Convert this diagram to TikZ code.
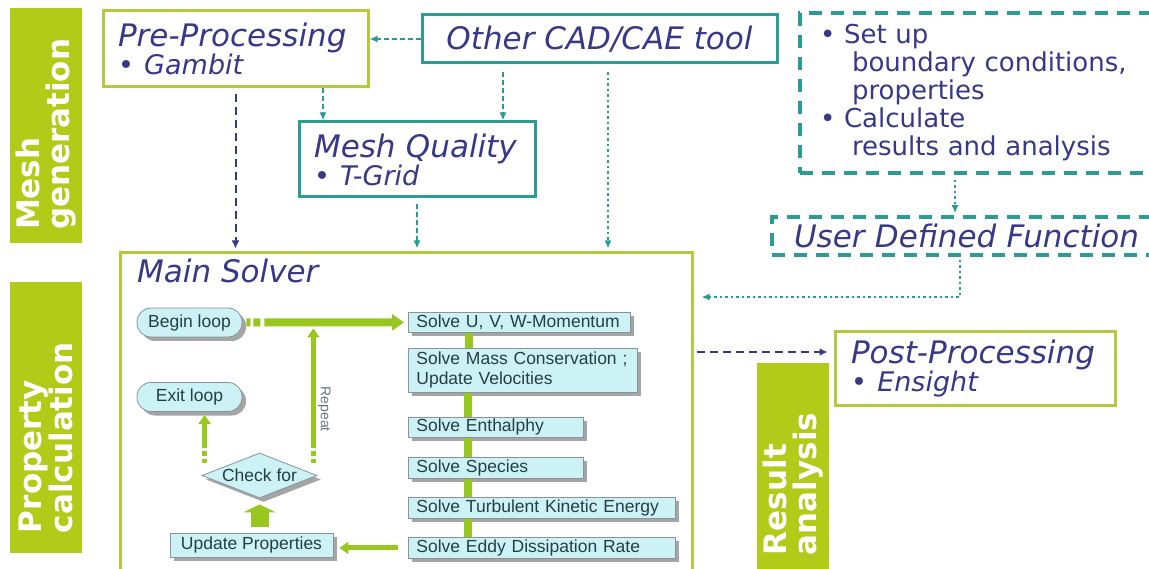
\documentclass[tikz,border=0pt]{standalone}
\usepackage{fontspec}
\setmainfont{DejaVu Sans}
\newfontfamily\flowfont{Liberation Sans}
\usetikzlibrary{arrows.meta,shapes.geometric,shadows}
\definecolor{barGreen}{RGB}{178,202,24}
\definecolor{boxGreen}{RGB}{176,204,62}
\definecolor{tealLine}{RGB}{44,156,146}
\definecolor{navyText}{RGB}{56,56,136}
\definecolor{cyanFill}{RGB}{204,242,246}
\definecolor{flowGreen}{RGB}{152,200,32}
\definecolor{flowText}{RGB}{36,62,72}
\newcommand\bulletline[1]{{\fontsize{27}{28}\selectfont • #1}}
\begin{document}
\begin{tikzpicture}[x=1pt, y=-1pt,
  bar/.style={rotate=90, fill=barGreen, text=white, align=left, inner ysep=0pt,
    minimum height=72pt, font=\bfseries\fontsize{31}{30}\selectfont},
  gbox/.style={draw=boxGreen, line width=3pt, fill=white, text=navyText, align=left,
    inner xsep=15pt, inner ysep=0pt, font=\itshape\fontsize{31}{28}\selectfont},
  tbox/.style={gbox, draw=tealLine},
  udfbox/.style={tbox, line width=3.5pt, dash pattern=on 13pt off 9pt},
  flownode/.style={draw=flowText!55, line width=0.8pt, fill=cyanFill, text=flowText,
    font=\flowfont\fontsize{17.5}{20}\selectfont,
    drop shadow={shadow xshift=4pt, shadow yshift=-4pt, fill=black!50, opacity=0.7}},
  loopnode/.style={flownode, rounded corners=14pt, minimum width=105pt, minimum height=29pt, inner sep=0pt},
  solvebox/.style={flownode, anchor=north west, align=left, inner xsep=8pt, inner ysep=0.5pt},
  checknode/.style={flownode, diamond, aspect=2.5, minimum width=115pt, minimum height=45pt, inner sep=0pt},
  flowline/.style={draw=flowGreen, line width=5pt},
  midarrow/.style={flowline, -{Triangle[length=9pt,width=12pt]}},
  bigarrow/.style={flowline, line width=8pt, -{Triangle[length=12pt,width=16pt]}},
  blockarrow/.style={flowline, line width=18pt, -{Triangle[length=8pt,width=32pt]}},
  replabel/.style={text=flowText!70, font=\flowfont\fontsize{14}{14}\selectfont, inner sep=2pt},
  tealdash/.style={draw=tealLine, line width=1.8pt, dash pattern=on 5pt off 3pt, -{Latex[length=8pt,width=7pt]}},
  tealdot/.style={tealdash, dash pattern=on 2.5pt off 3pt},
  navydash/.style={draw=navyText, line width=2pt, dash pattern=on 8pt off 5pt, -{Latex[length=8pt,width=8pt]}}
]
\clip (0,0) rectangle (1149,569);

\node[bar, inner xsep=13pt, text width=209pt] (meshbar) at (46,125.5) {Mesh\\generation};
\node[bar, inner xsep=20pt, text width=231pt] (propbar) at (46,417.5) {Property\\calculation};
\node[bar, inner xsep=20pt, text width=172pt] (resbar) at (793,469) {Result\\analysis};

\node[gbox, text width=235pt, minimum height=76pt] (pre) at (235.5,49) {Pre-Processing\\\bulletline{Gambit}};
\node[tbox, align=center, inner xsep=0pt, minimum width=355pt, minimum height=48pt] (other) at (599.5,39) {Other CAD/CAE tool};
\node[tbox, text width=206pt, minimum height=75pt] (mq) at (417,159.5) {Mesh Quality\\\bulletline{T-Grid}};
\node[udfbox, font=\fontsize{26}{28}\selectfont, inner xsep=20pt, text width=320pt, minimum height=160pt] (setup) at (980,93)
  {• Set up\\\hspace*{32pt}boundary conditions,\\\hspace*{32pt}properties\\• Calculate\\\hspace*{32pt}results and analysis};
\node[udfbox, inner xsep=22pt, text width=380pt, minimum height=38pt] (udf) at (984,236) {User Defined Function};
\node[gbox, minimum width=572pt, minimum height=327pt] (main) at (406,416.5) {};
\node[text=navyText, font=\itshape\fontsize{31}{28}\selectfont, anchor=base west, inner sep=0pt] (maintitle) at (137,283) {Main Solver};
\node[gbox, inner xsep=16pt, text width=248pt, minimum height=73pt] (post) at (975,368.5) {Post-Processing\\\bulletline{Ensight}};

\draw[tealdash] (other.west) -- (other.west -| pre.east);
\coordinate (pm) at ([xshift=87.5pt]pre.south);
\draw[tealdash] (pm) -- (pm |- mq.north);
\coordinate (om) at ([xshift=-96.5pt]other.south);
\draw[tealdash, shorten <=8pt] (om) -- (om |- mq.north);
\coordinate (os) at ([xshift=8.5pt]other.south);
\draw[tealdot, shorten <=8pt, shorten >=3pt] (os) -- (os |- main.north);
\draw[navydash, shorten <=6pt, shorten >=3pt] (pre.south) -- (pre.south |- main.north);
\draw[tealdash, shorten <=6pt, shorten >=3pt] (mq.south) -- (mq.south |- main.north);
\coordinate (setfoot) at ([xshift=-25pt]setup.south);
\draw[tealdot, shorten <=5pt, shorten >=2pt] (setfoot) -- (setfoot |- udf.north);
\coordinate (udffoot) at ([xshift=-24pt]udf.south);
\draw[tealdot, shorten <=3pt, shorten >=8pt] (udffoot) |- ([yshift=119.5pt]main.east);
\coordinate (postin) at ([yshift=16.5pt]post.west);
\draw[navydash, shorten <=3pt, shorten >=6pt] (postin -| main.east) -- (postin);

\node[loopnode] (begin) at (189.5,322.5) {Begin loop};
\node[loopnode] (exit) at (189.5,397) {Exit loop};
\node[checknode] (check) at (259.5,475.5) {Check for};
\node[flownode, minimum width=163pt, minimum height=24pt, inner sep=0pt] (update) at (251.5,545) {Update Properties};
\node[solvebox, text width=206pt, minimum height=20pt] (su) at (408,312) {Solve U, V, W-Momentum};
\node[solvebox, text width=213pt, minimum height=44pt] (mass) at (408,348) {Solve Mass Conservation ;\\Update Velocities};
\node[solvebox, text width=159pt, minimum height=20pt] (enth) at (408,417) {Solve Enthalphy};
\node[solvebox, text width=159pt, minimum height=21pt] (spec) at (408,457) {Solve Species};
\node[solvebox, text width=251pt, minimum height=21pt] (tke) at (408,497) {Solve Turbulent Kinetic Energy};
\node[solvebox, text width=251pt, minimum height=21pt] (eddy) at (408,537) {Solve Eddy Dissipation Rate};

\draw[flowline, line width=8pt] ([xshift=61pt]su.south west) -- ([xshift=61pt]mass.north west);
\draw[flowline, line width=8pt] ([xshift=60pt]mass.south west) -- ([xshift=60pt]enth.north west);
\draw[flowline, line width=8pt] ([xshift=60pt]enth.south west) -- ([xshift=60pt]spec.north west);
\draw[flowline, line width=8pt] ([xshift=60pt]spec.south west) -- ([xshift=60pt]tke.north west);
\draw[flowline, line width=8pt] ([xshift=60pt]tke.south west) -- ([xshift=60pt]eddy.north west);

\draw[bigarrow, shorten <=4pt, shorten >=4pt, dash pattern=on 4pt off 3pt on 7pt off 4pt on 400pt off 0pt] (begin.east) -- (su.west);
\coordinate (repfoot) at ([xshift=-4pt,yshift=13pt]check.east);
\draw[midarrow, shorten >=6pt, dash pattern=on 4pt off 3pt on 5pt off 3pt on 400pt off 0pt] (repfoot) -- node[replabel, pos=0.38, anchor=south, rotate=-90] (rep) {Repeat} (repfoot |- su.west);
\coordinate (exitfoot) at ([xshift=3pt,yshift=13pt]check.west);
\draw[midarrow, shorten >=3pt, dash pattern=on 4pt off 3pt on 5pt off 3pt on 400pt off 0pt] (exitfoot) -- (exitfoot |- exit.south);
\draw[blockarrow, shorten <=6pt, shorten >=6pt] (check.south |- update.north) -- (check.south);
\draw[midarrow, shorten <=10pt, shorten >=6pt] (eddy.west) -- (eddy.west -| update.east);
\end{tikzpicture}
\end{document}
